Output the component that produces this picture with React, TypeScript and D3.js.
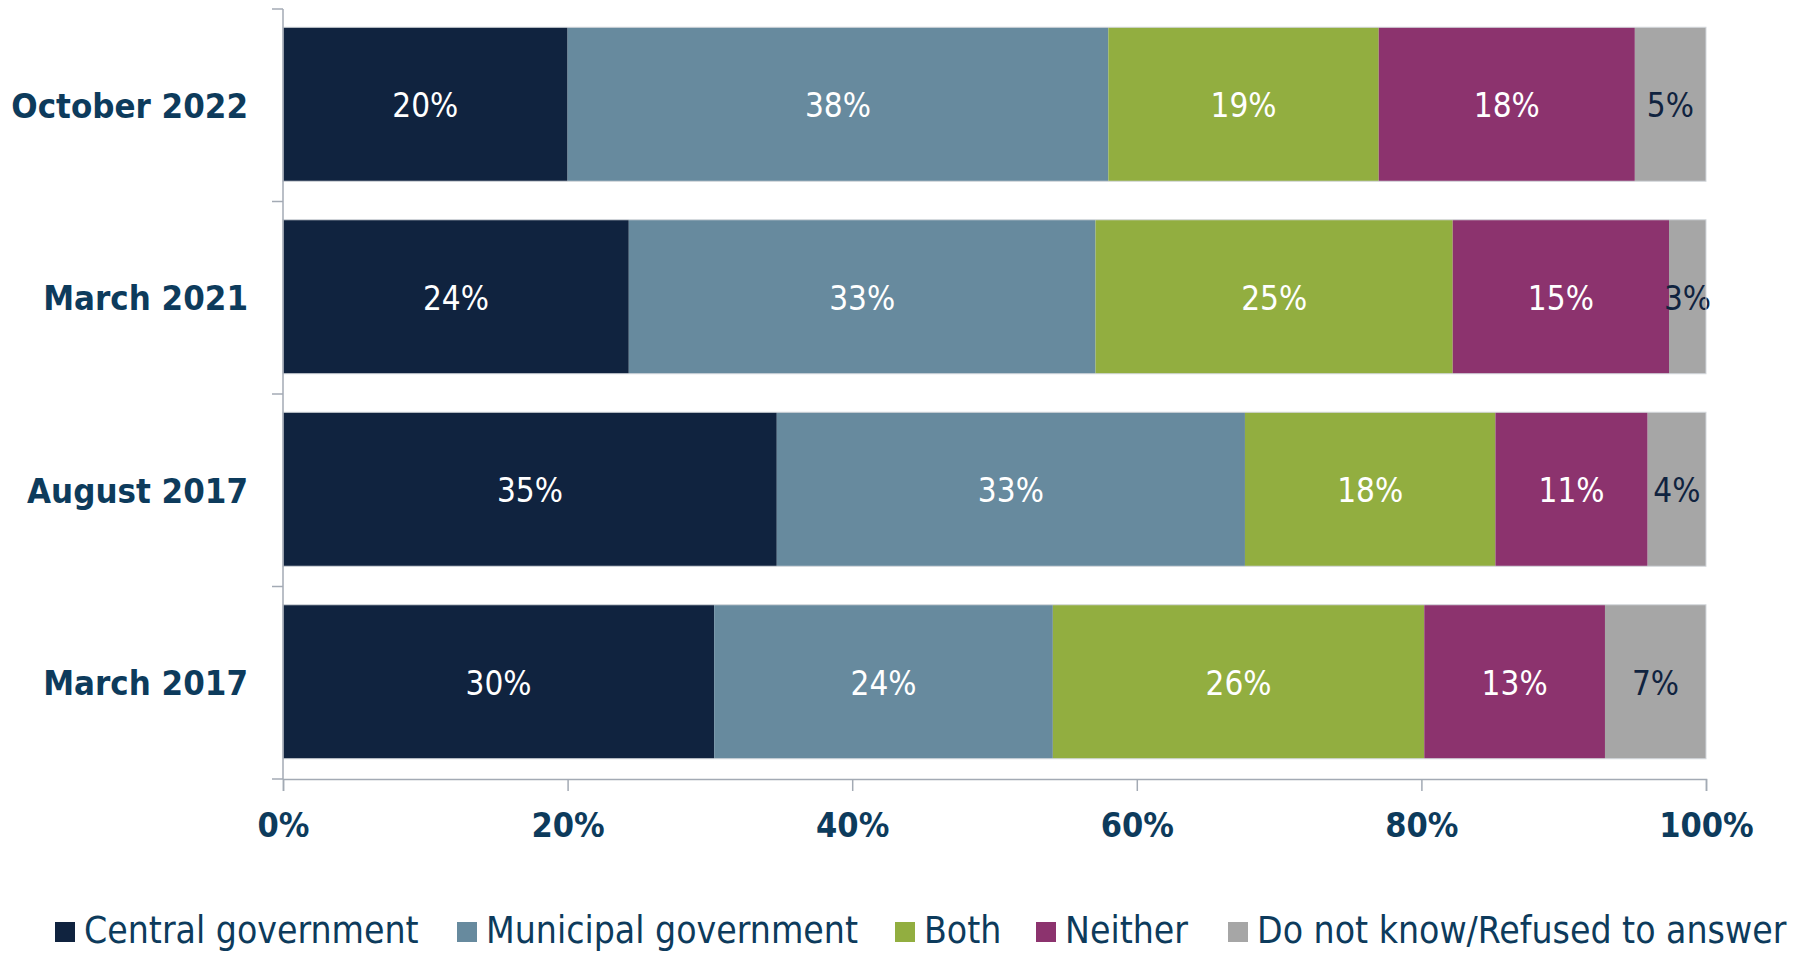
import { useEffect, useRef } from "react";
import * as d3 from "d3";

const categories = ["October 2022", "March 2021", "August 2017", "March 2017"];
const seriesNames = [
  "Central government",
  "Municipal government",
  "Both",
  "Neither",
  "Do not know/Refused to answer",
];
const central = [20, 24.3, 34.7, 30.3];
const municipal = [38, 32.8, 32.9, 23.8];
const both = [19, 25.1, 17.6, 26.1];
const neither = [18, 15.2, 10.7, 12.7];
const dontKnow = [5, 2.6, 4.1, 7.1];
const xTicks = [0, 20, 40, 60, 80, 100];

const colors = ["#10233f", "#678a9e", "#92ae40", "#8c336e", "#a6a6a6"];
const labelColors = ["#ffffff", "#ffffff", "#ffffff", "#ffffff", "#10233f"];
const textColor = "#0d3b5c";
const axisColor = "#a3aab4";
const font = "'DejaVu Sans Condensed', 'DejaVu Sans', sans-serif";

const App = () => {
  const ref = useRef<SVGSVGElement>(null);

  useEffect(() => {
    const width = 1810;
    const height = 953;
    const svg = d3.select(ref.current);
    svg.selectAll("*").remove();

    const rows = categories.map((c, i) => ({
      category: c,
      "Central government": central[i],
      "Municipal government": municipal[i],
      Both: both[i],
      Neither: neither[i],
      "Do not know/Refused to answer": dontKnow[i],
    }));

    const x = d3.scaleLinear().domain([0, 100]).range([283, 1706]);
    const y = d3
      .scaleBand()
      .domain(categories)
      .range([9, 779])
      .paddingInner(0.2)
      .paddingOuter(0.1);

    const stacked = d3.stack<any>().keys(seriesNames)(rows);

    // bars
    stacked.forEach((layer, si) => {
      const g = svg.append("g");
      g.selectAll("rect")
        .data(layer)
        .enter()
        .append("rect")
        .attr("x", (d) => x(d[0]))
        .attr("y", (d) => (y(d.data.category) || 0) - 1)
        .attr("width", (d) => x(d[1]) - x(d[0]))
        .attr("height", y.bandwidth())
        .attr("fill", colors[si]);

      g.selectAll("text")
        .data(layer)
        .enter()
        .append("text")
        .attr("x", (d) => (x(d[0]) + x(d[1])) / 2)
        .attr("y", (d) => (y(d.data.category) || 0) + y.bandwidth() / 2)
        .attr("dy", "0.36em")
        .attr("text-anchor", "middle")
        .attr("font-family", font)
        .attr("font-size", 33)
        .attr("fill", labelColors[si])
        .text((d) => `${Math.round(d[1] - d[0])}%`);
    });

    // light outline around each bar
    svg
      .append("g")
      .selectAll("rect")
      .data(categories)
      .enter()
      .append("rect")
      .attr("x", x(0))
      .attr("y", (d) => (y(d) || 0) - 1)
      .attr("width", x(100) - x(0))
      .attr("height", y.bandwidth())
      .attr("fill", "none")
      .attr("stroke", "#d3d7dc")
      .attr("stroke-width", 1);

    // y axis
    const yBounds = d3.range(categories.length + 1).map((i) => 9 + i * y.step());
    svg
      .append("line")
      .attr("x1", x(0))
      .attr("x2", x(0))
      .attr("y1", 9)
      .attr("y2", 779)
      .attr("stroke", axisColor)
      .attr("stroke-width", 1.5);
    svg
      .append("g")
      .selectAll("line")
      .data(yBounds)
      .enter()
      .append("line")
      .attr("x1", x(0) - 11)
      .attr("x2", x(0))
      .attr("y1", (d) => d)
      .attr("y2", (d) => d)
      .attr("stroke", axisColor)
      .attr("stroke-width", 1.5);

    svg
      .append("g")
      .selectAll("text")
      .data(categories)
      .enter()
      .append("text")
      .attr("x", 248)
      .attr("y", (d) => (y(d) || 0) + y.bandwidth() / 2)
      .attr("dy", "0.36em")
      .attr("text-anchor", "end")
      .attr("font-family", font)
      .attr("font-weight", "bold")
      .attr("font-size", 34.5)
      .attr("fill", textColor)
      .text((d) => d);

    // x axis
    const xAxis = svg
      .append("g")
      .attr("transform", "translate(0,779)")
      .call(
        d3
          .axisBottom(x)
          .tickValues(xTicks)
          .tickSize(12)
          .tickPadding(22)
          .tickFormat((d) => `${d}%`)
      );
    xAxis.select(".domain").attr("stroke", axisColor).attr("stroke-width", 1.5);
    xAxis.selectAll(".tick line").attr("stroke", axisColor).attr("stroke-width", 1.5);
    xAxis
      .selectAll(".tick text")
      .attr("font-family", font)
      .attr("font-weight", "bold")
      .attr("font-size", 34)
      .attr("fill", textColor);

    // legend
    const legendX = [55, 457, 895, 1036, 1228];
    const legend = svg
      .append("g")
      .selectAll("g")
      .data(seriesNames)
      .enter()
      .append("g")
      .attr("transform", (_, i) => `translate(${legendX[i]},922)`);
    legend
      .append("rect")
      .attr("width", 20)
      .attr("height", 20)
      .attr("fill", (_, i) => colors[i]);
    legend
      .append("text")
      .attr("x", 29)
      .attr("y", 21)
      .attr("font-family", font)
      .attr("font-size", 37)
      .attr("fill", textColor)
      .text((d) => d);

    svg.attr("width", width).attr("height", height);
  }, []);

  return (
    <svg
      ref={ref}
      width={1810}
      height={953}
      style={{ position: "absolute", left: 0, top: 0, background: "#fff" }}
    />
  );
};

export default App;
